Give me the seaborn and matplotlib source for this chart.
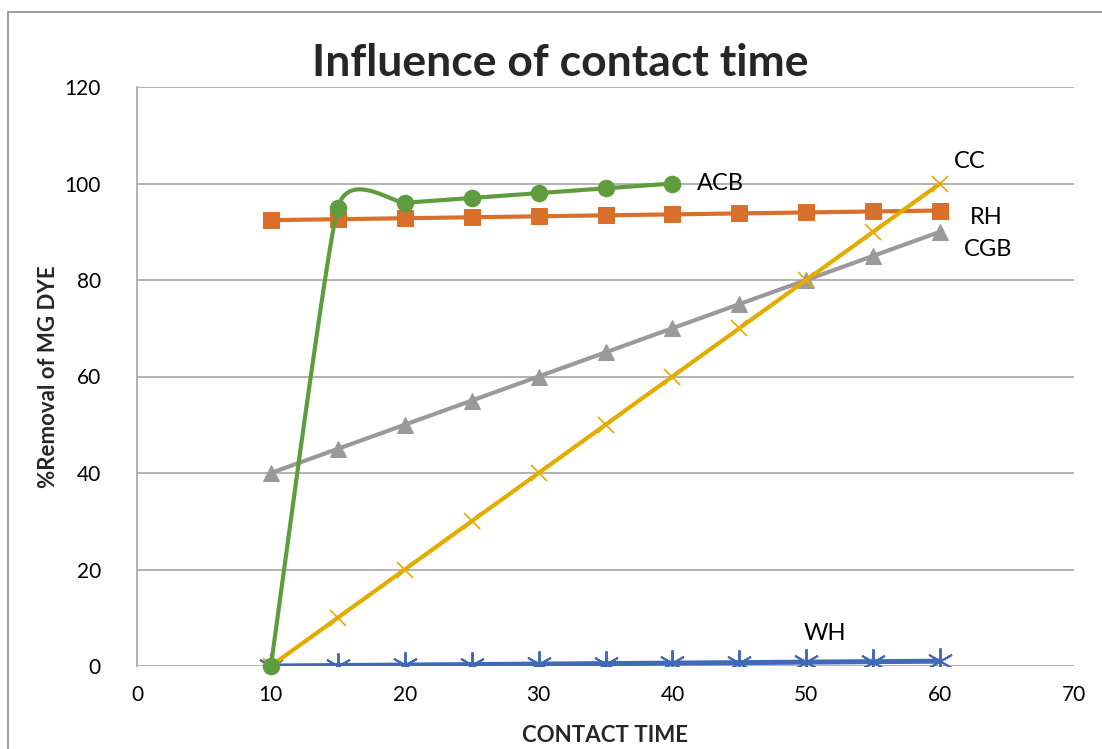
import numpy as np
import pandas as pd
import matplotlib
matplotlib.use("Agg")
import matplotlib.pyplot as plt
import seaborn as sns
from matplotlib.patches import Rectangle

# ---- data ----
time_all = [10, 15, 20, 25, 30, 35, 40, 45, 50, 55, 60]
wh = [0, 0.1, 0.2, 0.3, 0.4, 0.5, 0.6, 0.7, 0.8, 0.9, 1.0]
rh = [92.4, 92.6, 92.8, 93.0, 93.2, 93.4, 93.6, 93.8, 94.0, 94.2, 94.4]
cgb = [40, 45, 50, 55, 60, 65, 70, 75, 80, 85, 90]
cc = [0, 10, 20, 30, 40, 50, 60, 70, 80, 90, 100]
time_acb = [10, 15, 20, 25, 30, 35, 40]
acb = [0, 95, 96, 97, 98, 99, 100]

title = "Influence of contact time"
xlabel = "CONTACT TIME"
ylabel = "%Removal of MG DYE"
xticks = [0, 10, 20, 30, 40, 50, 60, 70]
yticks = [0, 20, 40, 60, 80, 100, 120]

c_wh = "#4169B5"
c_rh = "#D86F2B"
c_cgb = "#9A9A9A"
c_cc = "#E5AC00"
c_acb = "#5E9C3E"

sns.set_theme(style="white")
plt.rcParams['font.family'] = ['Lato', 'DejaVu Sans']

fig = plt.figure(figsize=(11.02, 7.49), dpi=100)
ax = fig.add_axes([137/1102, 1-666/749, (1074-137)/1102, (666-87)/749])

# figure border
fig.patches.append(Rectangle((8/1102, -0.05), 1.2, (749-12)/749 + 0.05,
                             transform=fig.transFigure, fill=False,
                             edgecolor="#8C8C8C", linewidth=1.2, zorder=0))

lw = 3.0
sns.lineplot(x=time_all, y=wh, ax=ax, color=c_wh, linewidth=lw + 0.6, marker=(6, 2, 0),
             markersize=19, markeredgecolor=c_wh, markeredgewidth=1.4, zorder=3)
sns.lineplot(x=time_all, y=rh, ax=ax, color=c_rh, linewidth=lw, marker="s",
             markersize=11, markeredgecolor=c_rh, zorder=4)
sns.lineplot(x=time_all, y=cgb, ax=ax, color=c_cgb, linewidth=lw, marker="^",
             markersize=12, markeredgecolor=c_cgb, zorder=5)
sns.lineplot(x=time_all, y=cc, ax=ax, color=c_cc, linewidth=lw, marker="x",
             markersize=12, markeredgecolor=c_cc, markeredgewidth=1.2, zorder=6)

# smoothed ACB curve (Excel-style smoothing through the data points)
px = np.array(time_acb, float)
py = np.array(acb, float)
cx, cy = [], []
t = np.linspace(0, 1, 40)
for i in range(len(px) - 1):
    p0 = np.array([px[max(i-1, 0)], py[max(i-1, 0)]])
    p1 = np.array([px[i], py[i]])
    p2 = np.array([px[i+1], py[i+1]])
    p3 = np.array([px[min(i+2, len(px)-1)], py[min(i+2, len(px)-1)]])
    b1 = p1 + (p2 - p0) / 12.0
    b2 = p2 - (p3 - p1) / 12.0
    pts = ((1-t)**3)[:, None]*p1 + (3*(1-t)**2*t)[:, None]*b1 + \
          (3*(1-t)*t**2)[:, None]*b2 + (t**3)[:, None]*p2
    cx.extend(pts[:, 0]); cy.extend(pts[:, 1])
sns.lineplot(x=cx, y=cy, ax=ax, color=c_acb, linewidth=lw, sort=False,
             estimator=None, zorder=7)
sns.scatterplot(x=time_acb, y=acb, ax=ax, color=c_acb, s=160,
                edgecolor=c_acb, linewidth=0, zorder=8, clip_on=False)

# series labels
lab_kw = dict(fontsize=17, color="black", va="center", ha="left")
ax.text(41.8, 100, "ACB", **lab_kw)
ax.text(61.0, 104.5, "CC", **lab_kw)
ax.text(62.2, 93.0, "RH", **lab_kw)
ax.text(61.8, 86.4, "CGB", **lab_kw)
ax.text(49.8, 6.8, "WH", **lab_kw)

ax.set_xlim(0, 70)
ax.set_ylim(0, 120)
ax.set_xticks(xticks)
ax.set_yticks(yticks)
ax.tick_params(axis="both", labelsize=15, length=0, colors="black")
ax.tick_params(axis="x", pad=14)
ax.tick_params(axis="y", pad=26)
ax.yaxis.grid(True, color="#A6A6A6", linewidth=1.2)
ax.xaxis.grid(False)
for s in ["top", "right", "bottom"]:
    ax.spines[s].set_visible(False)
ax.spines["left"].set_color("#A6A6A6")
ax.spines["left"].set_linewidth(1.2)

ax.set_xlabel(xlabel, fontsize=16, fontweight="bold", labelpad=14)
ax.set_ylabel(ylabel, fontsize=16, fontweight="bold", labelpad=4)
fig.text(560/1102, 1-63/749, title, fontsize=32, fontweight="bold",
         ha="center", va="center")

fig.savefig("out.png", dpi=100)
